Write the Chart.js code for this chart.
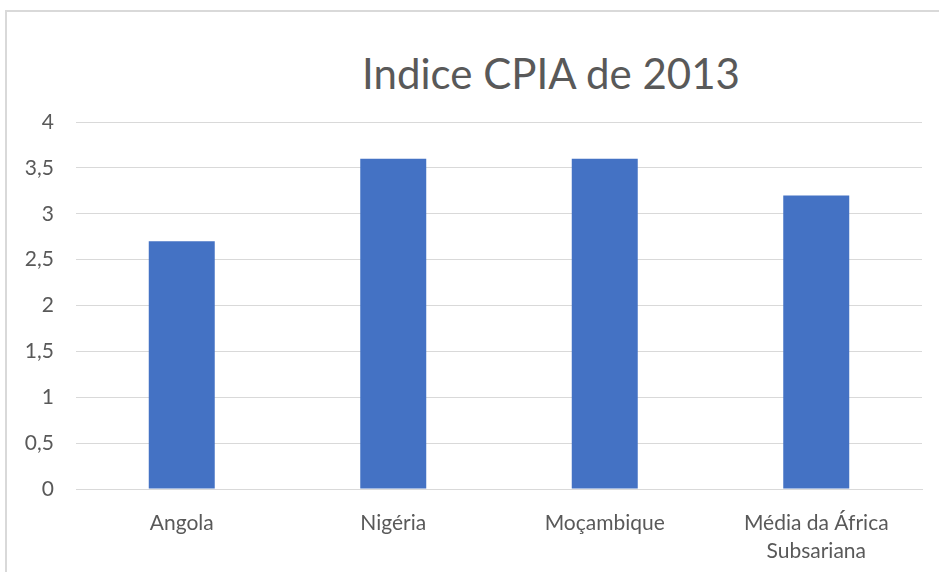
<!DOCTYPE html>
<html>
<head>
<meta charset="utf-8">
<script src="https://cdn.jsdelivr.net/npm/chart.js@4.4.1/dist/chart.umd.min.js"></script>
<style>
    body { margin: 0; background: #fff; overflow: hidden; }
    #frame { position: absolute; left: 5px; top: 10px; width: 950px; height: 580px;
             border-left: 2px solid #d9d9d9; border-top: 2px solid #d9d9d9; }
    #title { position: absolute; top: 48px; left: 0; width: 1102px; text-align: center;
             font-family: Lato, "Open Sans", sans-serif; font-size: 42px; color: #595959; }
    #wrap { position: absolute; left: 0; top: 0; width: 939px; height: 572px; }
</style>
</head>
<body>
<div id="frame"></div>
<div id="title">Indice CPIA de 2013</div>
<div id="wrap"><canvas id="chart" width="939" height="572"></canvas></div>
<script>
// values
var categories = ["Angola", "Nigéria", "Moçambique", ["Média da África", "Subsariana"]];
var cpiaValues = [2.7, 3.6, 3.6, 3.2];
var yMin = 0, yMax = 4, yStep = 0.5;

var textColor = "#595959";
var gridColor = "#d9d9d9";

var myBarChart = new Chart(document.getElementById("chart"), {
    type: 'bar',
    data: {
        labels: categories,
        datasets: [{
            data: cpiaValues,
            backgroundColor: "#4472C4",
            borderWidth: 0,
            barPercentage: 0.312,
            categoryPercentage: 1
        }]
    },
    options: {
        responsive: false,
        animation: false,
        layout: { padding: { left: 0, top: 122, right: 17, bottom: 0 } },
        plugins: {
            legend: { display: false },
            tooltip: { enabled: false }
        },
        scales: {
            x: {
                grid: { display: false },
                border: { color: gridColor, width: 1 },
                ticks: {
                    color: textColor,
                    padding: 12,
                    maxRotation: 0,
                    font: { family: "Lato", size: 21, lineHeight: 1.33 }
                },
                afterFit: function (scale) { scale.height = 83; }
            },
            y: {
                min: yMin,
                max: yMax,
                grid: { color: gridColor, drawTicks: false },
                border: { display: false },
                ticks: {
                    stepSize: yStep,
                    padding: 22,
                    color: textColor,
                    font: { family: "Lato", size: 21 },
                    callback: function (v) { return String(v).replace('.', ','); }
                },
                afterFit: function (scale) { scale.width = 76; }
            }
        }
    }
});
</script>
</body>
</html>
